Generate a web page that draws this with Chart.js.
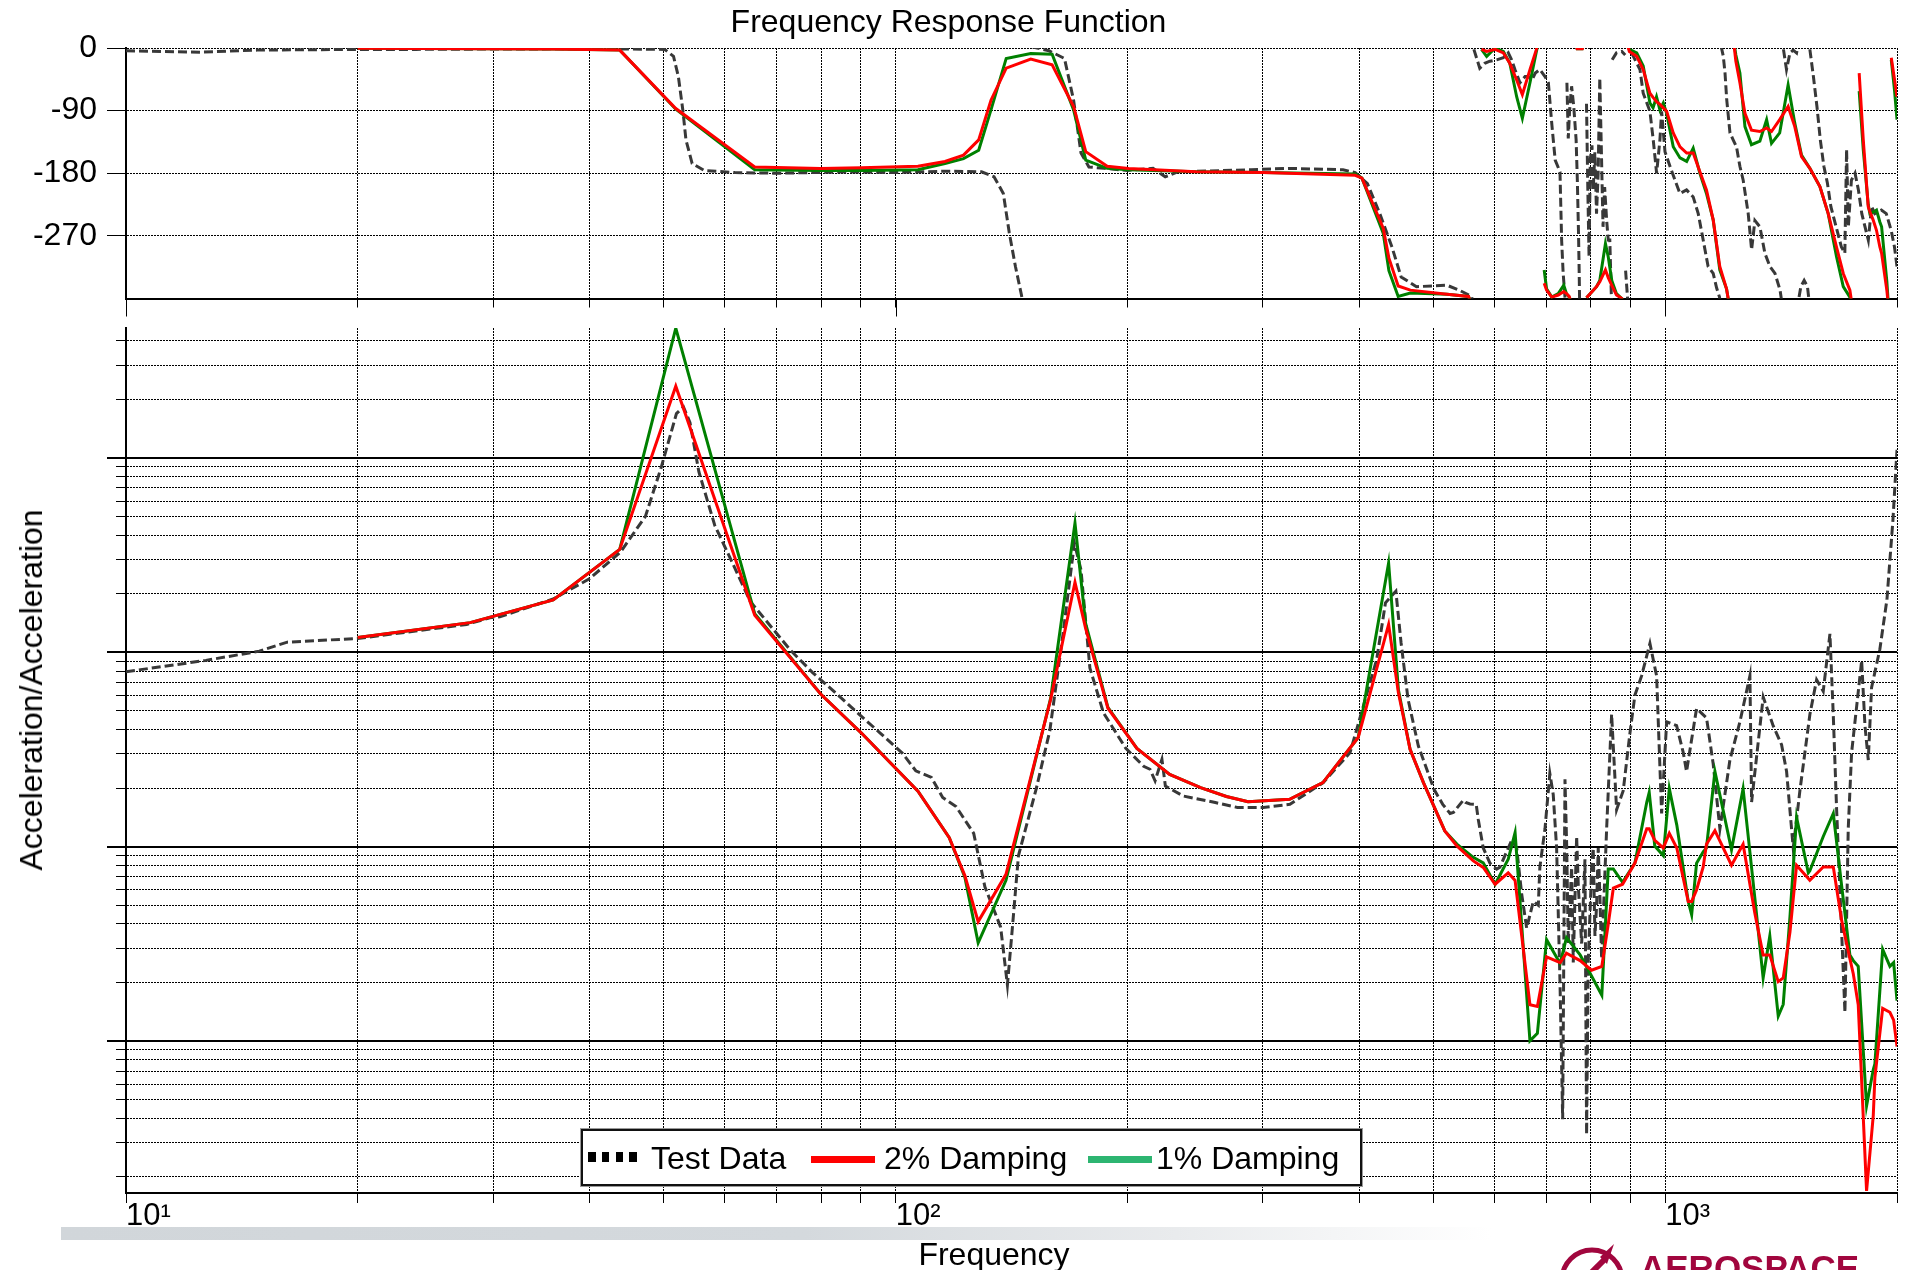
<!DOCTYPE html>
<html>
<head>
<meta charset="utf-8">
<title>Frequency Response Function</title>
<script src="https://cdn.jsdelivr.net/npm/chart.js@4.4.1/dist/chart.umd.min.js"></script>
<style>
  html, body { margin: 0; padding: 0; background: #fff; }
  body { width: 1905px; height: 1270px; position: relative; overflow: hidden;
         font-family: 'Liberation Sans', Arial, sans-serif; color: #000; }
  canvas { position: absolute; left: 0; }
  #phaseChart { top: 0; }
  #magChart { top: 300px; }
  .txt { position: absolute; font-size: 32px; line-height: 32px; white-space: nowrap; }
  #band { position: absolute; left: 61px; top: 1227px; width: 1430px; height: 13px;
          background: linear-gradient(90deg, #d1d6da 0%, #d4d9dd 52%, #e9ebed 78%, #ffffff 100%); }
  #legendBox { position: absolute; left: 581px; top: 1129px; width: 781px; height: 57px; box-sizing: border-box;
               border: 2px solid #111; background: #fff; box-shadow: 0 0 0 1px #9a9a9a; }
  .swatch { position: absolute; }
  #yTitle { left: 31px; top: 690px; transform: translate(-50%, -50%) rotate(-90deg); }
  #xTitle { left: 994px; top: 1238px; transform: translateX(-50%); }
  #brand { position: absolute; left: 1640px; top: 1250px; font-size: 35px; line-height: 35px; font-weight: bold;
           color: #a1063e; white-space: nowrap; }
</style>
</head>
<body>
<div id="band"></div>
<canvas id="phaseChart" width="1905" height="330"></canvas>
<canvas id="magChart" width="1905" height="970"></canvas>

<div id="legendBox"></div>
<div class="swatch" style="left:588px; top:1152px; width:49px; height:10px;
     background: repeating-linear-gradient(90deg, #000 0 7.7px, transparent 7.7px 13.8px);"></div>
<div class="txt" style="left:651px; top:1142px;">Test Data</div>
<div class="swatch" style="left:811px; top:1156px; width:64px; height:7px; background:#ff0000;"></div>
<div class="txt" style="left:884px; top:1142px;">2% Damping</div>
<div class="swatch" style="left:1088px; top:1156px; width:64px; height:7px; background:#2db571;"></div>
<div class="txt" style="left:1156px; top:1142px;">1% Damping</div>

<div class="txt" id="yTitle">Acceleration/Acceleration</div>
<div class="txt" id="xTitle">Frequency</div>

<svg style="position:absolute; left:1552px; top:1238px;" width="80" height="40">
  <circle cx="40" cy="42" r="30" fill="none" stroke="#a1063e" stroke-width="5"/>
  <path d="M62 6 L55 26 L48 19 Z" fill="#a1063e"/>
  <line x1="52" y1="22" x2="30" y2="44" stroke="#a1063e" stroke-width="6"/>
</svg>
<div id="brand">AEROSPACE</div>

<script>
// ---- axis ticks ----
const freqTicks = [10, 20, 30, 40, 50, 60, 70, 80, 90, 100, 200, 300, 400, 500, 600, 700, 800, 900, 1000, 2000];
const freqTickLabels = { 10: '10\u00B9', 100: '10\u00B2', 1000: '10\u00B3' };
const phaseTicks = [-270, -180, -90, 0];
const magTicks = [0.002, 0.003, 0.004, 0.005, 0.006, 0.007, 0.008, 0.009,
                  0.01, 0.02, 0.03, 0.04, 0.05, 0.06, 0.07, 0.08, 0.09,
                  0.1, 0.2, 0.3, 0.4, 0.5, 0.6, 0.7, 0.8, 0.9,
                  1, 2, 3, 4, 5, 6, 7, 8, 9, 10, 20, 30, 40];

// ---- magnitude: measured ----
const testMagFreq = [10, 12.7, 14.9, 16.2, 20, 27.7, 29.7, 30.6, 35.9, 40,
  43.9, 47.3, 49.6, 51.9, 53, 54.05, 55.5, 58.2, 61.4, 64.7,
  68.3, 73, 78, 83.5, 89.2, 95.4, 102, 106.2, 111.3, 115.1,
  119.8, 126.3, 130.6, 136.9, 139.7, 141.5, 144.4, 152.3, 158.6, 165.1,
  170.7, 174.1, 178.8, 186.2, 199.1, 210, 214, 217.3, 221.8, 224.1,
  236.5, 260.2, 278, 300.3, 325.3, 359.4, 389.4, 421.7, 432.9, 446.6,
  453.6, 463.2, 477.7, 500.6, 513.8, 525.2, 530.4, 546.5, 550.3, 557.5,
  567.9, 571.4, 580, 591.7, 603.8, 609.7, 631.4, 641, 650.7, 660.5,
  673.7, 683.9, 687.1, 697.7, 707.9, 715.1, 722.4, 729.7, 735.6, 740.7,
  744.4, 748, 755.6, 759.3, 767, 770.8, 778.6, 786.3, 790.2, 794,
  802.3, 806, 810.2, 814.2, 818.2, 822.4, 826.5, 839, 851.6, 864.4,
  881.7, 899.5, 913.1, 931.5, 955, 974.3, 989, 1004, 1034.4, 1055,
  1065.6, 1098, 1131.3, 1154, 1177.4, 1213.2, 1250, 1288, 1294.5, 1340.3,
  1380.7, 1416, 1437.4, 1466.2, 1495.8, 1541.3, 1572.4, 1604, 1636.4, 1652.7,
  1669.5, 1711.5, 1728.5, 1746.1, 1772.5, 1799.3, 1817.2, 1835.3, 1853.6, 1900,
  1940.7, 1976, 2000];
const testMag = [0.794, 0.908, 1.013, 1.127, 1.177, 1.39, 1.504, 1.522, 1.88, 2.387,
  3.277, 5.0, 8.96, 16.9, 18.3, 15.2, 8.49, 4.5, 2.87, 1.83,
  1.41, 1.024, 0.786, 0.619, 0.488, 0.385, 0.303, 0.2455, 0.2268, 0.1788,
  0.1607, 0.117, 0.0621, 0.0385, 0.0194, 0.0347, 0.0899, 0.1987, 0.395, 1.266,
  3.645, 2.655, 0.829, 0.488, 0.32, 0.259, 0.25, 0.218, 0.281, 0.205,
  0.182, 0.1685, 0.159, 0.159, 0.165, 0.2135, 0.3045, 0.918, 1.796, 2.06,
  1.119, 0.572, 0.329, 0.197, 0.165, 0.148, 0.1497, 0.1733, 0.1685, 0.1657,
  0.165, 0.1383, 0.0984, 0.0822, 0.0765, 0.0784, 0.1077, 0.0984, 0.0571, 0.038,
  0.0522, 0.0499, 0.0784, 0.1235, 0.238, 0.1854, 0.0984, 0.0202, 0.00395, 0.222,
  0.103, 0.0317, 0.0784, 0.0253, 0.1127, 0.0626, 0.0317, 0.086, 0.0033, 0.0253,
  0.0784, 0.0984, 0.0347, 0.0499, 0.0984, 0.0546, 0.0265, 0.1235, 0.48, 0.1547,
  0.194, 0.3826, 0.602, 0.7555, 1.11, 0.7555, 0.148, 0.4383, 0.419, 0.3051,
  0.2434, 0.5135, 0.459, 0.2664, 0.1235, 0.279, 0.4383, 0.7555, 0.1695, 0.5886,
  0.419, 0.3343, 0.2434, 0.0984, 0.194, 0.48, 0.7214, 0.63, 1.243, 0.48,
  0.1547, 0.01404, 0.1235, 0.3051, 0.5253, 0.905, 0.419, 0.279, 0.659, 1.036,
  1.867, 4.813, 11.0];

// ---- magnitude: model ----
const modelMagFreq = [20, 28, 35.9, 43.8, 51.8, 65.6, 79.9, 90.2, 106.9, 117.4,
  123, 128, 139.1, 159, 171, 176.5, 188.7, 205.8, 227, 249,
  269, 287, 325, 359, 399, 437, 450, 466, 485, 517,
  536, 563, 580, 601, 625, 638, 667, 682, 701, 730,
  744, 775, 802, 827, 843, 856, 880, 913, 946, 953,
  969, 994, 1012, 1035, 1071, 1082, 1098, 1120, 1131, 1160,
  1219, 1262, 1307, 1340, 1367, 1402, 1423, 1452, 1481, 1534,
  1541, 1604, 1653, 1695, 1737, 1755, 1781, 1826, 1863, 1872,
  1916, 1958, 1980, 2000];
const mag2pct = [1.19, 1.42, 1.86, 3.38, 23.4, 1.55, 0.61, 0.385, 0.193, 0.111,
  0.0709, 0.0411, 0.072, 0.572, 2.29, 1.33, 0.515, 0.32, 0.235, 0.201,
  0.181, 0.170, 0.175, 0.2135, 0.364, 1.39, 0.619, 0.317, 0.2135, 0.1204,
  0.1008, 0.0844, 0.0781, 0.064, 0.0733, 0.067, 0.01536, 0.01503, 0.0271, 0.0253,
  0.0283, 0.0259, 0.0231, 0.0242, 0.0398, 0.0611, 0.064, 0.0822, 0.1235, 0.1235,
  0.1077, 0.0984, 0.117, 0.0984, 0.0522, 0.0522, 0.0598, 0.0785, 0.1028, 0.1208,
  0.0802, 0.1028, 0.0456, 0.0277, 0.0277, 0.0202, 0.0211, 0.0363, 0.0802, 0.0685,
  0.067, 0.0785, 0.0785, 0.0416, 0.0265, 0.0221, 0.01536, 0.00169, 0.00414, 0.0065,
  0.0147, 0.01404, 0.0128, 0.00935];
const mag1pct = [1.19, 1.42, 1.86, 3.38, 46.5, 1.58, 0.61, 0.385, 0.193, 0.111,
  0.0695, 0.032, 0.067, 0.58, 4.62, 1.41, 0.52, 0.32, 0.235, 0.201,
  0.181, 0.170, 0.175, 0.2135, 0.364, 2.88, 0.64, 0.317, 0.2135, 0.1204,
  0.103, 0.088, 0.0825, 0.064, 0.086, 0.118, 0.0100, 0.01094, 0.0332, 0.025,
  0.034, 0.0277, 0.0216, 0.0172, 0.0767, 0.0767, 0.0655, 0.0822, 0.169, 0.190,
  0.1007, 0.0899, 0.1987, 0.129, 0.0522, 0.0446, 0.0822, 0.094, 0.0984, 0.2434,
  0.0962, 0.1987, 0.0546, 0.0211, 0.0347, 0.01343, 0.0154, 0.0436, 0.1414, 0.0733,
  0.075, 0.1127, 0.148, 0.0626, 0.0277, 0.0259, 0.0242, 0.00463, 0.00713, 0.00762,
  0.0296, 0.0242, 0.0253, 0.0161];

// ---- phase (deg), split into the branches drawn between wraps ----
const modelPhaseFreq = [
  [20, 36, 43.8, 51.8, 65.6, 79.9, 90.2, 106.9, 115.9, 122.5, 128.2, 133, 139.2, 149.8, 159.7,
   170.3, 176.6, 188.3, 200.8, 245.6, 300, 395.5, 403.5, 430, 437.4, 449.7, 466.4, 520.4, 555, 562],
  [577, 586, 601, 616, 628, 641, 652, 667, 680, 688],
  [696, 701, 712, 726, 738, 744, 750, 758],
  [764, 768, 780, 784],
  [790, 814, 822, 836, 843, 852, 864, 878, 885],
  [890, 898, 918, 936, 955, 964, 974, 984, 994, 1004, 1024, 1045, 1066, 1087, 1109, 1131, 1154, 1177, 1201, 1212],
  [1225, 1235, 1250, 1269, 1294, 1327, 1354, 1374, 1408, 1444, 1473, 1503, 1541, 1588, 1628, 1669, 1703, 1737, 1750],
  [1786, 1808, 1835, 1844, 1862, 1881, 1900, 1910, 1940, 1950],
  [1966, 1985, 2000]
];
const phase2pct = [
  [-0.5, -1.5, -3, -87, -171, -173, -172, -170, -163, -154, -132, -75, -29, -16, -24,
   -84, -149, -170, -173, -178, -179, -183, -187, -259, -302, -342, -348, -354, -357, -372],
  [-2, -5, -2, -7, -22, -46, -67, -31, -2, 20],
  [-338, -348, -358, -355, -350, -353, -357, -372],
  [6, -1, -1, 6],
  [-359, -343, -336, -319, -330, -341, -355, -360, -372],
  [10, -5, -12, -31, -65, -71, -77, -81, -86, -91, -122, -142, -151, -151, -178, -204, -247, -314, -346, -372],
  [15, -19, -50, -94, -118, -120, -115, -120, -103, -84, -113, -156, -173, -199, -238, -286, -324, -348, -372],
  [-36, -132, -228, -235, -247, -262, -286, -295, -348, -372],
  [-14, -45, -70]
];
const phase1pct = [
  [-0.5, -1.5, -3, -88, -175, -176, -176, -175, -166, -159, -147, -89, -15, -8, -9,
   -89, -161, -173, -175, -178, -179, -181, -187, -266, -320, -357, -352, -354, -357, -372],
  [-2, -12, 0, -5, -22, -70, -101, -50, -5, 20],
  [-319, -346, -358, -353, -341, -353, -358, -372],
  [6, -1, -1, 6],
  [-359, -343, -334, -281, -300, -334, -353, -360, -372],
  [10, -2, -7, -26, -79, -86, -70, -89, -79, -94, -142, -158, -163, -144, -180, -209, -247, -319, -346, -372],
  [15, -10, -36, -113, -139, -134, -103, -137, -122, -53, -108, -154, -173, -199, -238, -300, -343, -358, -372],
  [-62, -146, -225, -238, -236, -233, -250, -257, -335, -372],
  [-17, -60, -103]
];
const testPhaseFreq = [
  [10, 12.5, 14.8, 20, 23.8, 30, 41.3, 50.1, 51.45, 52.2, 52.9, 53.4, 54.4, 56.4, 61.8,
   70, 87, 100, 115.9, 129.3, 134.2, 138, 140.5, 143.1, 145.7, 147],
  [149.8, 158.2, 165.7, 170.3, 174.1, 178.3, 186.6, 200, 216, 224, 232.5, 289.7, 323.5, 381.2,
   395.5, 410.2, 425.6, 441.4, 453.7, 475, 520.4, 539.8, 560.2, 563],
  [564, 574, 582.6, 591.7, 603.8, 615.8, 625.1, 631.4, 637.7, 647.4, 657.4, 664, 671, 677.7,
   687.1, 697.7, 704.8, 711.9, 719.3, 729.7, 733.3, 736.7, 740.7, 742],
  [745, 748, 751, 755.5, 760.4, 765.8, 768.6, 771.3, 772.9, 774],
  [790, 793, 796, 799, 803, 806, 810, 814, 818, 822, 826, 830, 834, 839, 843, 847, 851, 852],
  [853, 864, 878, 887],
  [888, 893, 896],
  [904, 927, 936, 955, 964.5, 974.3, 984, 989, 999, 1014, 1029.5, 1044.7, 1065.6, 1087, 1103.5,
   1120, 1136.6, 1154, 1166, 1176, 1180],
  [1182, 1189.5, 1195.6, 1201.6, 1213.4, 1225, 1237.3, 1250, 1262.4, 1281.5, 1294.5, 1307.4,
   1327.2, 1347, 1367.4, 1388.4, 1409.6, 1420],
  [1424, 1437, 1452, 1466, 1481, 1488],
  [1492, 1500, 1515, 1530, 1538],
  [1541, 1557.5, 1574, 1590, 1607, 1624, 1641, 1667, 1693.5, 1711, 1720, 1729, 1745, 1764, 1782,
   1800, 1817.6, 1835.5, 1853.5, 1871.5, 1908.6, 1936.8, 1965.5, 1985, 2000]
];
const testPhase = [
  [-4, -6, -3, -2, -2, -1.5, -1, -2, -12, -41, -89, -132, -166, -176, -179,
   -180, -178, -179, -177, -178, -185, -209, -266, -314, -355, -380],
  [2, -4, -15, -75, -151, -171, -173, -176, -173, -185, -178, -175, -173, -175,
   -179, -195, -238, -286, -329, -343, -341, -348, -357, -372],
  [-2, -29, -22, -19, -17, -14, -7, -17, -31, -50, -41, -41, -46, -36,
   -31, -41, -50, -108, -161, -178, -276, -324, -358, -375],
  [-50, -130, -90, -55, -84, -132, -190, -266, -324, -372],
  [-80, -200, -300, -160, -140, -204, -150, -238, -180, -43, -150, -257, -200, -247, -276, -276, -358, -372],
  [-17, -7, -5, -10],
  [-320, -358, -372],
  [-7, -31, -65, -91, -132, -180, -132, -91, -149, -170, -190, -209, -204, -214, -238,
   -276, -314, -324, -345, -358, -372],
  [2, -12, -36, -74, -122, -132, -142, -170, -190, -238, -290, -248,
   -257, -295, -314, -324, -348, -372],
  [-2, -31, -7, -3, -7, 5],
  [-358, -343, -334, -343, -365],
  [-2, -41, -84, -132, -170, -194, -228, -257, -286, -295, -146, -257, -190, -180, -204,
   -238, -257, -276, -228, -238, -233, -238, -262, -286, -314]
];

// ---- helpers ----
const toPoints = (xs, ys) => xs.map((x, i) => ({ x, y: ys[i] }));
function branchesToPoints(xSegs, ySegs) {
  const pts = [];
  xSegs.forEach((seg, s) => {
    if (s > 0) pts.push({ x: seg[0], y: null });   // break the line at a wrap
    seg.forEach((x, i) => pts.push({ x, y: ySegs[s][i] }));
  });
  return pts;
}
const isDecade = v => { const l = Math.log10(v); return Math.abs(l - Math.round(l)) < 1e-6; };

// longer tick marks at the powers of ten
const decadeTicks = {
  id: 'decadeTicks',
  afterDraw(chart, args, opts) {
    const ctx = chart.ctx;
    ctx.save();
    ctx.strokeStyle = '#000';
    for (const a of (opts.axes || [])) {
      const scale = chart.scales[a.id];
      for (const t of scale.ticks) {
        if (!isDecade(t.value)) continue;
        const p = scale.getPixelForValue(t.value);
        ctx.beginPath();
        if (scale.isHorizontal()) {
          ctx.lineWidth = 1;
          const px = Math.round(p) + 0.5;
          ctx.moveTo(px, scale.top); ctx.lineTo(px, scale.top + a.length);
        } else {
          ctx.lineWidth = 2;
          const py = Math.round(p);
          ctx.moveTo(scale.right, py); ctx.lineTo(scale.right - a.length, py);
        }
        ctx.stroke();
      }
    }
    ctx.restore();
  }
};

Chart.defaults.font.family = "'Liberation Sans', Arial, sans-serif";
Chart.defaults.color = '#000';

const GRID_DASH = [2, 1];

function freqAxis(withLabels, height) {
  return {
    type: 'logarithmic', min: 10, max: 2000, bounds: 'data',
    afterBuildTicks: s => { s.ticks = freqTicks.map(v => ({ value: v })); },
    afterFit: s => { s.height = height; },
    grid: { color: '#000', lineWidth: 1, tickLength: withLabels ? 10 : 9, tickColor: '#000' },
    border: { display: true, color: '#000', width: 2, dash: GRID_DASH },
    ticks: {
      display: withLabels, autoSkip: false, maxRotation: 0, minRotation: 0,
      align: 'start', padding: -2, color: '#000',
      font: { size: 31, lineHeight: 1 },
      callback: v => freqTickLabels[v] || ''
    }
  };
}

const line = (color, extra) => Object.assign({
  borderColor: color, backgroundColor: color, borderWidth: 3,
  pointRadius: 0, pointHoverRadius: 0, tension: 0, fill: false, spanGaps: false
}, extra || {});

const common = {
  responsive: false, maintainAspectRatio: false, devicePixelRatio: 1,
  animation: false, events: [], parsing: true
};

// ---- phase panel ----
new Chart(document.getElementById('phaseChart'), {
  type: 'line',
  data: {
    datasets: [
      line('#ff0000', { label: '2% Damping', data: branchesToPoints(modelPhaseFreq, phase2pct) }),
      line('#008000', { label: '1% Damping', data: branchesToPoints(modelPhaseFreq, phase1pct) }),
      line('#383838', { label: 'Test Data', borderDash: [9, 4], data: branchesToPoints(testPhaseFreq, testPhase) })
    ]
  },
  options: Object.assign({}, common, {
    layout: { padding: { left: 0, right: 8, top: 0, bottom: 0 } },
    scales: {
      x: freqAxis(false, 31.5),
      y: {
        type: 'linear', min: -360, max: 0,
        afterBuildTicks: s => { s.ticks = phaseTicks.map(v => ({ value: v })); },
        afterFit: s => { s.width = 126; },
        grid: { color: '#000', lineWidth: 1, tickLength: 19, tickColor: '#000' },
        border: { display: true, color: '#000', width: 2, dash: GRID_DASH },
        ticks: { autoSkip: false, padding: 10, color: '#000', font: { size: 32, lineHeight: 1 },
                 callback: v => String(v) }
      }
    },
    plugins: {
      legend: { display: false },
      tooltip: { enabled: false },
      title: {
        display: true, text: 'Frequency Response Function', color: '#000',
        font: { size: 32, weight: 'normal', lineHeight: 1 },
        padding: { top: 7, bottom: 9 }
      },
      decadeTicks: { axes: [{ id: 'x', length: 18 }] }
    }
  }),
  plugins: [decadeTicks]
});

// ---- magnitude panel ----
new Chart(document.getElementById('magChart'), {
  type: 'line',
  data: {
    datasets: [
      line('#ff0000', { label: '2% Damping', data: toPoints(modelMagFreq, mag2pct) }),
      line('#008000', { label: '1% Damping', data: toPoints(modelMagFreq, mag1pct) }),
      line('#383838', { label: 'Test Data', borderDash: [9, 4], data: toPoints(testMagFreq, testMag) })
    ]
  },
  options: Object.assign({}, common, {
    layout: { padding: { left: 0, right: 8, top: 28, bottom: 0 } },
    scales: {
      x: freqAxis(true, 77),
      y: {
        type: 'logarithmic', min: 0.00165, max: 46.6, bounds: 'data',
        afterBuildTicks: s => { s.ticks = magTicks.map(v => ({ value: v })); },
        afterFit: s => { s.width = 126; },
        grid: {
          color: '#000', tickColor: '#000', tickLength: 10,
          lineWidth: c => (c.tick && isDecade(c.tick.value)) ? 2 : 1
        },
        border: {
          display: true, color: '#000', width: 2,
          dash: c => (c.tick && isDecade(c.tick.value)) ? [] : GRID_DASH
        },
        ticks: { display: false, autoSkip: false }
      }
    },
    plugins: {
      legend: { display: false },
      tooltip: { enabled: false },
      title: { display: false },
      decadeTicks: { axes: [{ id: 'y', length: 19 }] }
    }
  }),
  plugins: [decadeTicks]
});
</script>
</body>
</html>
